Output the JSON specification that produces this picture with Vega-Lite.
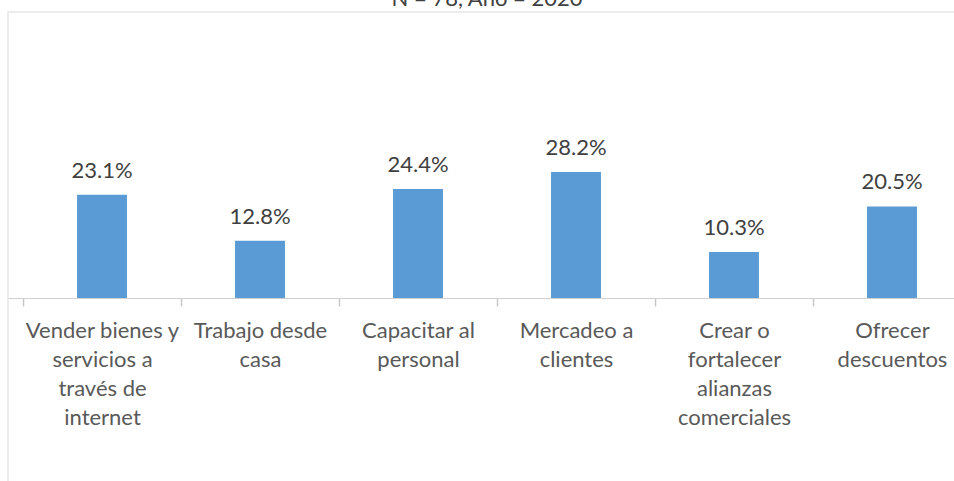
{
  "$schema": "https://vega.github.io/schema/vega-lite/v6.json",
  "autosize": {"type": "none"},
  "padding": {"left": 8, "top": 12, "right": 0, "bottom": 0},
  "width": 978,
  "height": 480,
  "background": "white",
  "title": {"text": "N = 78, Año = 2020", "anchor": "middle", "baseline": "alphabetic", "offset": 0, "dx": -10, "dy": 16, "font": "Lato", "fontSize": 22, "fontWeight": "normal", "color": "#404040"},
  "config": {"view": {"stroke": "#e6e6e6", "strokeWidth": 1.5}},
  "data": {"values": [
    {"categoria": "Vender bienes y servicios a través de internet", "pct": 0.231},
    {"categoria": "Trabajo desde casa", "pct": 0.128},
    {"categoria": "Capacitar al personal", "pct": 0.244},
    {"categoria": "Mercadeo a clientes", "pct": 0.282},
    {"categoria": "Crear o fortalecer alianzas comerciales", "pct": 0.103},
    {"categoria": "Ofrecer descuentos", "pct": 0.205}
  ]},
  "encoding": {
    "x": {"field": "categoria", "type": "nominal", "sort": null,
      "scale": {"paddingInner": 0.684, "paddingOuter": 0.437},
      "axis": {"title": null, "orient": "bottom", "offset": -194, "ticks": true, "bandPosition": 0.5, "tickOffset": -79, "labelOffset": 79, "domainColor": "#d0d0d0", "tickColor": "#c8c8c8", "tickSize": 8, "tickWidth": 1.5, "labelAngle": 0, "labelFont": "Lato", "labelFontSize": 22, "labelColor": "#595959", "labelPadding": 14, "labelLineHeight": 29, "labelBaseline": "top", "labelLimit": 0,
        "labelExpr": "{'Vender bienes y servicios a través de internet': ['Vender bienes y','servicios a','través de','internet'], 'Trabajo desde casa': ['Trabajo desde','casa'], 'Capacitar al personal': ['Capacitar al','personal'], 'Mercadeo a clientes': ['Mercadeo a','clientes'], 'Crear o fortalecer alianzas comerciales': ['Crear o','fortalecer','alianzas','comerciales'], 'Ofrecer descuentos': ['Ofrecer','descuentos']}[datum.label]"}},
    "y": {"field": "pct", "type": "quantitative", "scale": {"domain": [-0.434, 0.64], "nice": false, "zero": false}, "axis": null}
  },
  "layer": [
    {"mark": {"type": "bar", "color": "#5b9bd5"}, "encoding": {"y2": {"datum": 0}}},
    {"mark": {"type": "text", "baseline": "bottom", "dy": -12, "font": "Lato", "fontSize": 22, "color": "#404040"},
     "encoding": {"text": {"field": "pct", "type": "quantitative", "format": ".1%"}}}
  ]
}
